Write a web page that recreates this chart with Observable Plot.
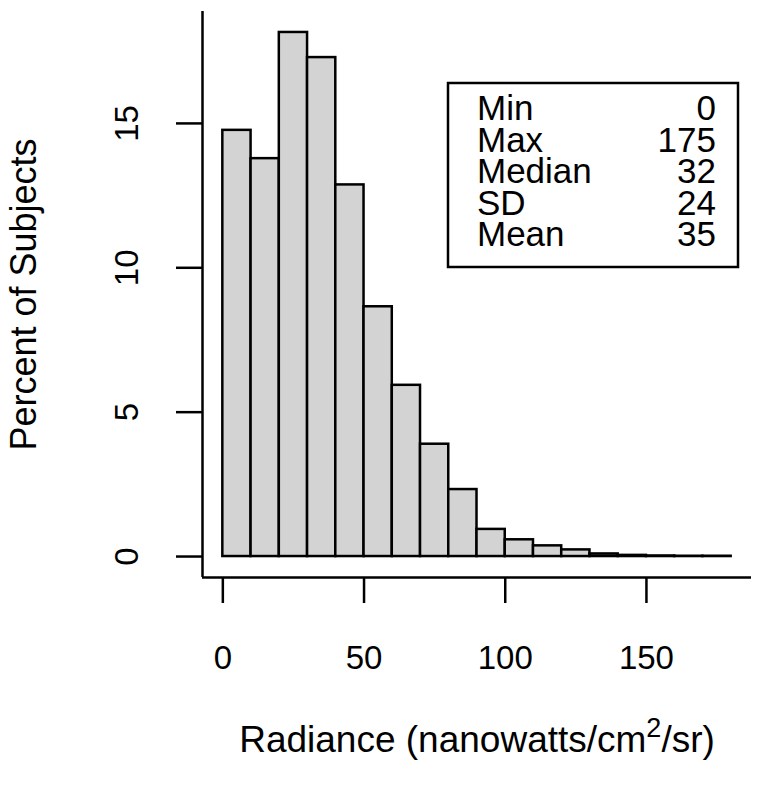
<!DOCTYPE html>
<html>
<head>
<meta charset="utf-8">
<script src="https://cdn.jsdelivr.net/npm/d3@7"></script>
<script src="https://cdn.jsdelivr.net/npm/@observablehq/plot@0.6"></script>
<style>
  html, body { margin: 0; padding: 0; background: #fff; }
  #chart { width: 762px; height: 786px; }
</style>
</head>
<body>
<div id="chart"></div>
<script>
// ---- data ----
const binStarts = [0, 10, 20, 30, 40, 50, 60, 70, 80, 90, 100, 110, 120, 130, 140, 150, 160, 170];
const binWidth = 10;
const percents = [14.76, 13.78, 18.15, 17.28, 12.87, 8.65, 5.93, 3.89, 2.32, 0.94, 0.58, 0.37, 0.23, 0.09, 0.04, 0.02, 0.01, 0.01];
const xTicks = [0, 50, 100, 150];
const yTicks = [0, 5, 10, 15];
const statLabels = ["Min", "Max", "Median", "SD", "Mean"];
const statValues = ["0", "175", "32", "24", "35"];
const yTitle = "Percent of Subjects";
const xTitlePre = "Radiance (nanowatts/cm";
const xTitleSup = "2";
const xTitlePost = "/sr)";

// ---- build ----
const bins = binStarts.map((s, i) => ({x1: s, x2: s + binWidth, pct: percents[i]}));
const xMin = 0, xMax = binStarts[binStarts.length - 1] + binWidth;
const xPad = (xMax - xMin) * 0.04;
const yMaxV = d3.max(percents);
const yPad = yMaxV * 0.04;
const xDomain = [xMin - xPad, xMax + xPad];
const yDomain = [0 - yPad, yMaxV + yPad];

const FONT = "'Liberation Sans', Arial, Helvetica, sans-serif";
const FS = 33;      // tick labels
const FS_LAB = 36;  // axis titles
const FS_XLAB = 37; // x title
const FS_LEG = 35;  // legend
const LW = 2.5;

const plot = Plot.plot({
  width: 762,
  height: 786,
  marginLeft: 202,
  marginRight: 11,
  marginTop: 11,
  marginBottom: 209,
  style: {fontFamily: FONT, fontSize: FS + "px", background: "#fff", color: "#000", overflow: "visible"},
  x: {domain: xDomain},
  y: {domain: yDomain},
  marks: [
    Plot.rectY(bins, {x1: "x1", x2: "x2", y: "pct", fill: "#d3d3d3", stroke: "#000", strokeWidth: LW, inset: 0}),
    Plot.ruleX([xDomain[0]], {stroke: "#000", strokeWidth: LW}),
    Plot.ruleY([yDomain[0]], {stroke: "#000", strokeWidth: LW}),
    Plot.axisX(xTicks, {tickSize: 26, tickPadding: 42, strokeWidth: LW, fontSize: FS, tickFormat: d => String(d), label: null, fill: "#000", stroke: "#000"}),
    Plot.axisY(yTicks, {tickSize: 26, strokeWidth: LW, fill: "none", stroke: "#000", label: null}),
    Plot.text(yTicks, {y: d => d, text: d => String(d), frameAnchor: "left", dx: -75, rotate: -90, fontSize: FS, textAnchor: "middle", lineAnchor: "middle", fill: "#000"}),
    Plot.text([yTitle], {text: d => d, frameAnchor: "left", dx: -178, rotate: -90, fontSize: FS_LAB, textAnchor: "middle", lineAnchor: "middle", fill: "#000"}),
    Plot.text([xTitlePre + xTitleSup + xTitlePost], {text: d => d, frameAnchor: "bottom", dy: 163, fontSize: FS_XLAB, textAnchor: "middle", lineAnchor: "middle", fill: "#000"})
  ]
});

document.getElementById("chart").appendChild(plot);

// superscript in x title
const svg = d3.select(plot);
svg.selectAll("text").filter(function() { return this.textContent === xTitlePre + xTitleSup + xTitlePost; })
  .each(function() {
    const t = d3.select(this);
    t.text(null);
    t.append("tspan").text(xTitlePre);
    t.append("tspan").attr("font-size", 27).attr("dy", -15).text(xTitleSup);
    t.append("tspan").attr("dy", 15).text(xTitlePost);
  });

// statistics legend box (top-right inside plot)
const lg = svg.append("g").attr("font-family", FONT).attr("font-size", FS_LEG).attr("fill", "#000");
lg.append("rect").attr("x", 448).attr("y", 83).attr("width", 290).attr("height", 184)
  .attr("fill", "#fff").attr("stroke", "#000").attr("stroke-width", LW);
statLabels.forEach((lab, i) => {
  const yb = 120 + i * 31.5;
  lg.append("text").attr("x", 477).attr("y", yb).attr("text-anchor", "start").text(lab);
  lg.append("text").attr("x", 716).attr("y", yb).attr("text-anchor", "end").text(statValues[i]);
});
</script>
</body>
</html>
